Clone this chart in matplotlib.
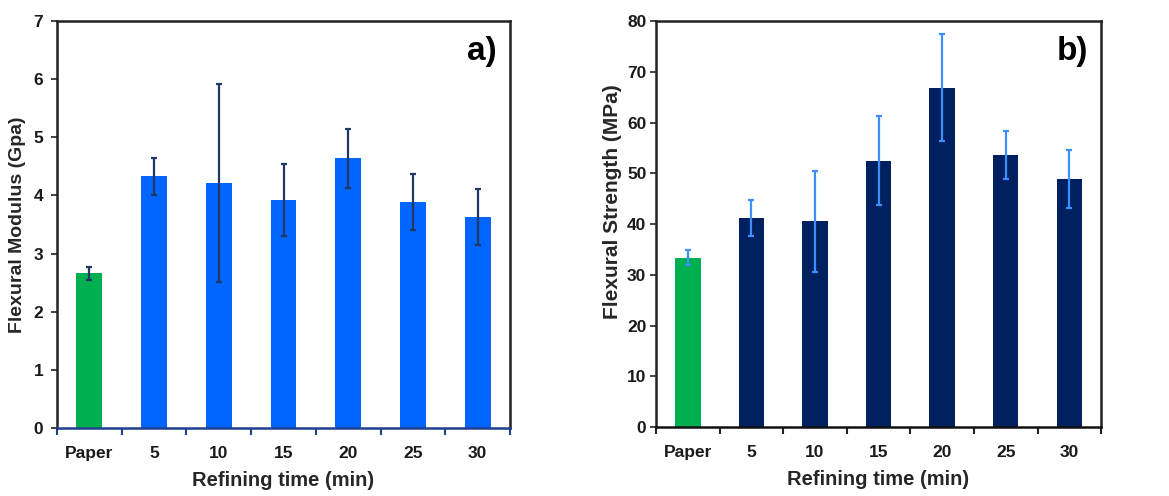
import matplotlib
matplotlib.use("Agg")
import matplotlib.pyplot as plt
from matplotlib import font_manager

# Refining-time categories shared by both panels
categories = ["Paper", "5", "10", "15", "20", "25", "30"]

# Panel a) flexural modulus (GPa) and standard deviations
modulus = [2.66, 4.33, 4.21, 3.92, 4.64, 3.89, 3.63]
modulus_err = [0.11, 0.32, 1.70, 0.62, 0.51, 0.48, 0.48]

# Panel b) flexural strength (MPa) and standard deviations
strength = [33.4, 41.2, 40.5, 52.5, 66.9, 53.6, 48.9]
strength_err = [1.5, 3.5, 10.0, 8.7, 10.5, 4.7, 5.7]

GREEN = "#00B050"
BLUE = "#0066FF"
NAVY = "#002060"
ERR_DARK = "#1F3864"
ERR_LIGHT = "#3D8EFF"

installed = {f.name for f in font_manager.fontManager.ttflist}
narrow = "Liberation Sans Narrow" if "Liberation Sans Narrow" in installed else "Liberation Sans"

plt.rcParams["font.family"] = ["Liberation Sans", "DejaVu Sans"]

fig = plt.figure(figsize=(11.69, 4.96), dpi=100)
ax1 = fig.add_axes([0.0488, 0.1371, 0.3875, 0.8206])
ax2 = fig.add_axes([0.5612, 0.1391, 0.3807, 0.8185])

x = list(range(len(categories)))


def draw_panel(ax, values, errs, bar_color, err_color, ymax, ystep, ylabel, tag,
               tick_font, bottom_color, xtick_color, ylabel_size, ylabel_x,
               ylabel_y, ytick_pad):
    colors = [GREEN] + [bar_color] * (len(values) - 1)
    ax.bar(x, values, width=0.4, color=colors, edgecolor="none", zorder=2)
    ax.errorbar(x, values, yerr=errs, fmt="none", ecolor=err_color,
                elinewidth=1.6, capsize=2.5, capthick=1.6, zorder=3)
    ax.set_xlim(-0.5, len(values) - 0.5)
    ax.set_ylim(0, ymax)
    ax.set_yticks([i * ystep for i in range(int(round(ymax / ystep)) + 1)])
    # category labels sit at bar centers; tick marks sit between categories
    ax.set_xticks([i + 0.5 for i in range(-1, len(values))])
    ax.set_xticklabels([])
    ax.set_xticks(x, minor=True)
    ax.set_xticklabels(categories, minor=True, fontsize=12.5, fontweight="bold",
                       family=tick_font, color="#1a1a1a")
    ax.tick_params(axis="x", which="minor", length=0, pad=13)
    ax.tick_params(axis="x", which="major", direction="out", length=5,
                   width=1.5, color=xtick_color)
    ax.tick_params(axis="y", direction="out", length=4, width=1.2,
                   color="#222222", pad=ytick_pad)
    for lab in ax.get_yticklabels():
        lab.set_fontsize(12.5)
        lab.set_fontweight("bold")
        lab.set_family(tick_font)
        lab.set_color("#1a1a1a")
    for side in ("top", "right", "left"):
        ax.spines[side].set_linewidth(1.8)
        ax.spines[side].set_color("#222222")
    ax.spines["bottom"].set_linewidth(1.8)
    ax.spines["bottom"].set_color(bottom_color)
    ax.set_ylabel(ylabel, fontsize=ylabel_size, fontweight="bold", color="#262626")
    ax.yaxis.set_label_coords(ylabel_x, ylabel_y)
    ax.set_xlabel("Refining time (min)", fontsize=14.5, fontweight="bold",
                  family=tick_font, color="#262626")
    ax.xaxis.set_label_coords(0.5, -0.106)
    ax.text(0.97, 0.925, tag, transform=ax.transAxes, ha="right", va="center",
            fontsize=24, fontweight="bold", color="black")


draw_panel(ax1, modulus, modulus_err, BLUE, ERR_DARK, 7, 1,
           "Flexural Modulus (Gpa)", "a)", "Liberation Sans", "#1F3F8F", "#1F3F8F",
           14, -0.068, 0.5, 6)
draw_panel(ax2, strength, strength_err, NAVY, ERR_LIGHT, 80, 10,
           "Flexural Strength (MPa)", "b)", narrow, "#111111", "#222222",
           15, -0.076, 0.555, 3)

fig.savefig("out.png", dpi=100)
